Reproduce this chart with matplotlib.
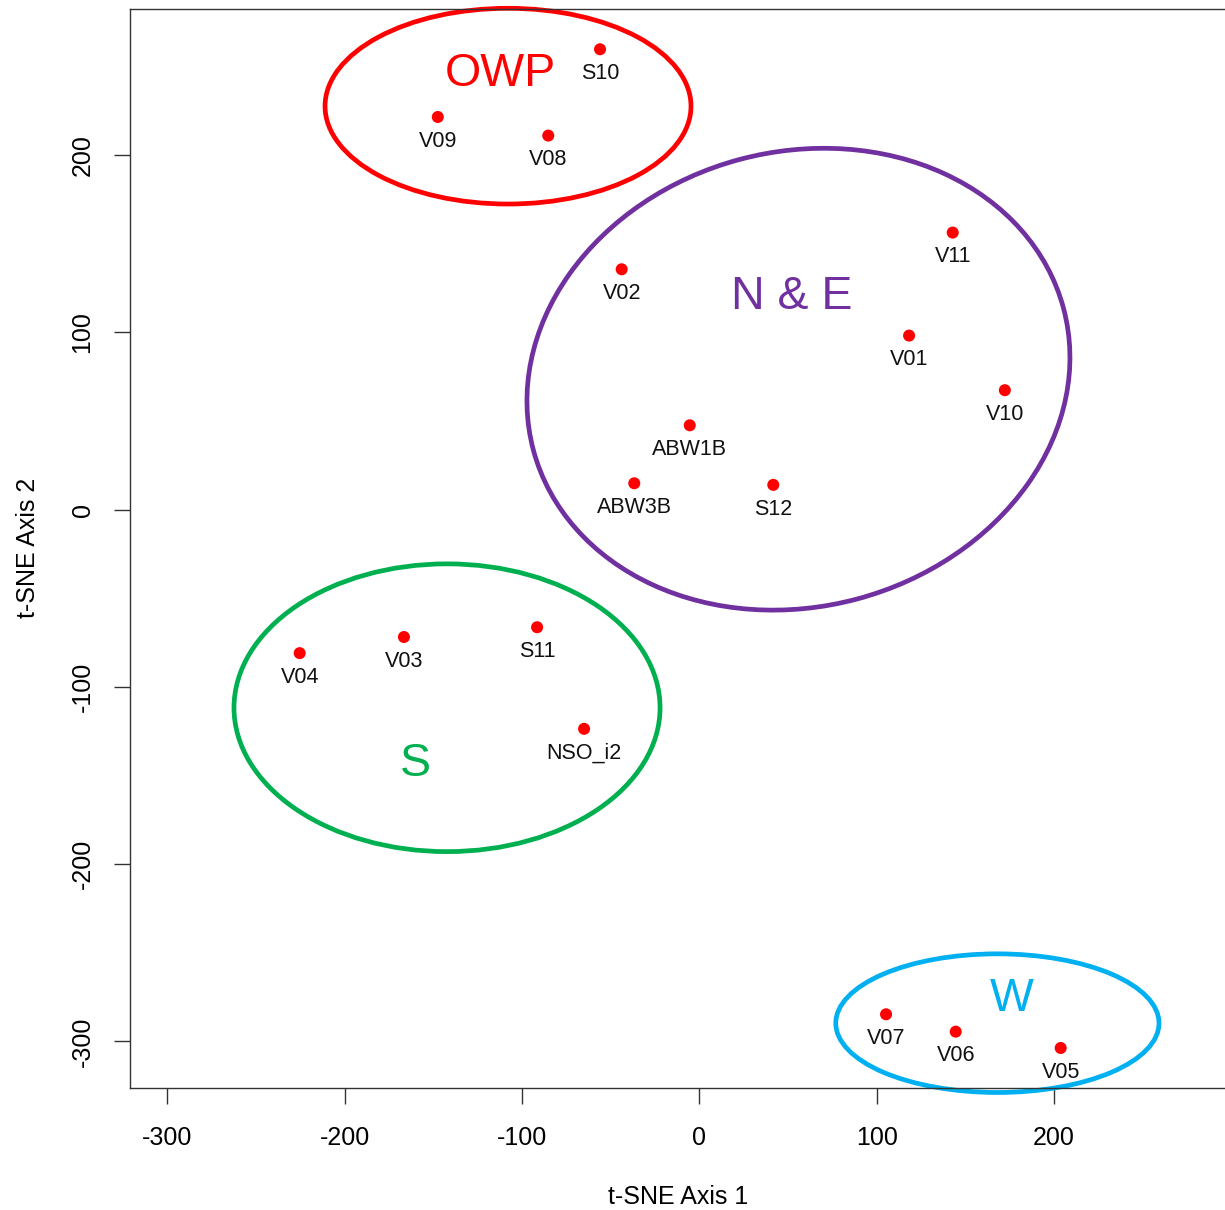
import matplotlib
matplotlib.use('Agg')
import matplotlib.pyplot as plt
from matplotlib.patches import Ellipse

plt.rcParams['font.family'] = ['Liberation Sans', 'DejaVu Sans']
plt.rcParams['axes.unicode_minus'] = False

# sample coordinates
sites = ['S10', 'V09', 'V08', 'V11', 'V02', 'V01', 'V10', 'ABW1B', 'ABW3B', 'S12',
         'V04', 'V03', 'S11', 'NSO_i2', 'V07', 'V06', 'V05']
axis1 = [-56.0, -147.5, -85.2, 142.9, -43.8, 118.3, 172.3, -5.4, -36.7, 41.7,
         -225.4, -166.6, -91.5, -65.0, 105.3, 144.6, 203.8]
axis2 = [259.6, 221.4, 210.9, 156.2, 135.5, 98.1, 67.3, 47.5, 14.8, 13.9,
         -81.0, -71.9, -66.4, -123.7, -284.7, -294.5, -303.7]

# cluster ellipses
groups = ['OWP', 'N & E', 'S', 'W']
group_colors = ['#FF0000', '#7030A0', '#00B050', '#00B0F0']
ell_x = [-107.9, 55.9, -142.3, 168.1]
ell_y = [227.5, 73.5, -111.8, -289.7]
ell_w = [206.4, 309.5, 240.3, 182.3]
ell_h = [110.4, 256.6, 162.3, 78.2]
ell_angle = [0, 15, 0, 0]
label_x = [-112.4, 52.1, -160.0, 176.2]
label_y = [239.1, 113.0, -150.3, -282.8]

xticks = [-300, -200, -100, 0, 100, 200]
yticks = [-300, -200, -100, 0, 100, 200]

fig = plt.figure(figsize=(12.25, 12.10), dpi=100)
ax = fig.add_axes([130 / 1225, 1 - 1087.7 / 1210, 1097 / 1225, 1078.7 / 1210])

for i in range(len(groups)):
    e = Ellipse((ell_x[i], ell_y[i]), ell_w[i], ell_h[i], angle=ell_angle[i],
                fill=False, edgecolor=group_colors[i], lw=3.4, clip_on=False, zorder=2)
    ax.add_patch(e)
    ax.text(label_x[i], label_y[i], groups[i], color=group_colors[i], fontsize=33.5,
            ha='center', va='baseline', zorder=3)

ax.scatter(axis1, axis2, s=75, color='#FF0000', edgecolors='none', zorder=4)
for name, x, y in zip(sites, axis1, axis2):
    ax.annotate(name, (x, y), xytext=(0, -21.4), textcoords='offset points',
                ha='center', va='baseline', fontsize=15.5, color='#111111', zorder=5)

ax.set_xlim(-321.1, 297.6)
ax.set_ylim(-326.1, 282.3)
ax.set_xticks(xticks)
ax.set_yticks(yticks)
ax.tick_params(length=11.5, width=1.0, color='#333333', labelsize=18, pad=16)
ax.tick_params(axis='y', labelrotation=90, pad=14)
for lab in ax.get_yticklabels():
    lab.set_va('center')

for side in ['left', 'bottom', 'top']:
    ax.spines[side].set_linewidth(1.0)
    ax.spines[side].set_color('#333333')
ax.spines['right'].set_visible(False)

ax.set_xlabel('t-SNE Axis 1', fontsize=18)
ax.set_ylabel('t-SNE Axis 2', fontsize=18)
ax.xaxis.set_label_coords(0.5, -0.1013)
ax.xaxis.label.set_va('center')
ax.yaxis.set_label_coords(-0.093, 0.5)
ax.yaxis.label.set_va('center')

fig.savefig('out.png', dpi=100)
